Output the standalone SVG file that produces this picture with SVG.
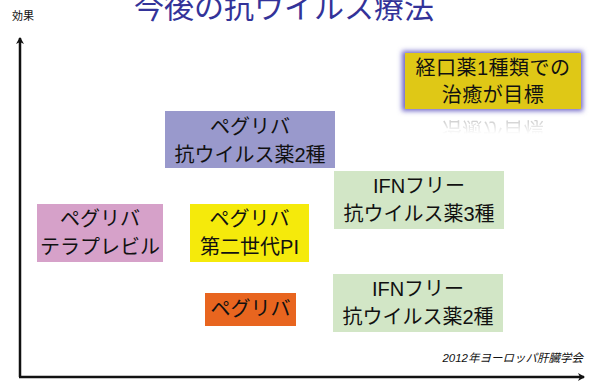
<svg xmlns="http://www.w3.org/2000/svg" width="594" height="383" viewBox="0 0 594 383">
<defs>
<style>
.t{font-family:"Liberation Sans","Noto Sans CJK JP",sans-serif;font-size:20px;fill:#111;text-anchor:middle}
.ax{stroke:#111;stroke-width:2.5;fill:none}
</style>
<marker id="ah" markerWidth="8" markerHeight="8" refX="6" refY="4" orient="auto" markerUnits="userSpaceOnUse">
<path d="M0,0 L7,4 L0,8 L2,4 Z" fill="#111"/>
</marker>
<filter id="glow" x="-20%" y="-30%" width="140%" height="160%">
<feGaussianBlur stdDeviation="2.5"/>
</filter>
<linearGradient id="fade" x1="0" y1="0" x2="0" y2="1">
<stop offset="0" stop-color="#fff" stop-opacity="0.5"/>
<stop offset="1" stop-color="#fff" stop-opacity="0"/>
</linearGradient>
<mask id="rm" maskUnits="userSpaceOnUse" x="400" y="110" width="190" height="30">
<rect x="400" y="110" width="190" height="24" fill="url(#fade)"/>
</mask>
</defs>
<rect width="594" height="383" fill="#fff"/>
<text x="284" y="18" style="font-family:'Noto Sans CJK JP','Noto Sans',sans-serif;font-size:30px;fill:#333399;text-anchor:middle">今後の抗ウイルス療法</text>
<text x="23" y="20" style="font-family:'Noto Sans CJK JP','Noto Sans',sans-serif;font-size:11px;fill:#111;text-anchor:middle">効果</text>
<g id="axes">
<path class="ax" d="M20,377 L20,38" marker-end="url(#ah)"/>
<path class="ax" d="M19,377 L584,377" marker-end="url(#ah)"/>
</g>
<g id="goal">
<rect x="402" y="51" width="181" height="60" fill="#6f67c8" filter="url(#glow)"/>
<rect x="405" y="53" width="176" height="56" fill="#dfc816"/>
<text class="t" x="493" y="75" style="letter-spacing:0.5px">経口薬1種類での</text>
<text class="t" x="493" y="102" style="letter-spacing:0.5px">治癒が目標</text>
<g mask="url(#rm)">
<text class="t" transform="translate(0,224) scale(1,-1)" x="493" y="102" style="letter-spacing:0.5px;fill:#555">治癒が目標</text>
</g>
</g>
<g id="pegriba-2">
<rect x="165" y="111" width="170" height="57" fill="#9999cc"/>
<text class="t" x="250" y="134">ペグリバ</text>
<text class="t" x="250" y="162">抗ウイルス薬2種</text>
</g>
<g id="pegriba-telaprevir">
<rect x="37" y="204" width="126" height="58" fill="#d6a1c9"/>
<text class="t" x="100" y="226">ペグリバ</text>
<text class="t" x="100" y="254">テラプレビル</text>
</g>
<g id="pegriba-pi">
<rect x="190" y="204" width="119" height="58" fill="#f5ea0b"/>
<text class="t" x="249.5" y="226">ペグリバ</text>
<text class="t" x="249.5" y="254">第二世代PI</text>
</g>
<g id="ifn-free-3">
<rect x="334" y="171" width="170" height="58" fill="#d2e6c6"/>
<text class="t" x="419" y="193">IFNフリー</text>
<text class="t" x="419" y="221">抗ウイルス薬3種</text>
</g>
<g id="pegriba">
<rect x="205" y="293" width="91" height="33" fill="#e8651f"/>
<text class="t" x="250.5" y="316">ペグリバ</text>
</g>
<g id="ifn-free-2">
<rect x="333" y="274" width="170" height="58" fill="#d2e6c6"/>
<text class="t" x="418" y="296">IFNフリー</text>
<text class="t" x="418" y="324">抗ウイルス薬2種</text>
</g>
<text x="583" y="362" style="font-family:'Liberation Sans','Noto Sans CJK JP',sans-serif;font-size:11.5px;font-style:italic;fill:#111;text-anchor:end">2012年ヨーロッパ肝臓学会</text>
</svg>
